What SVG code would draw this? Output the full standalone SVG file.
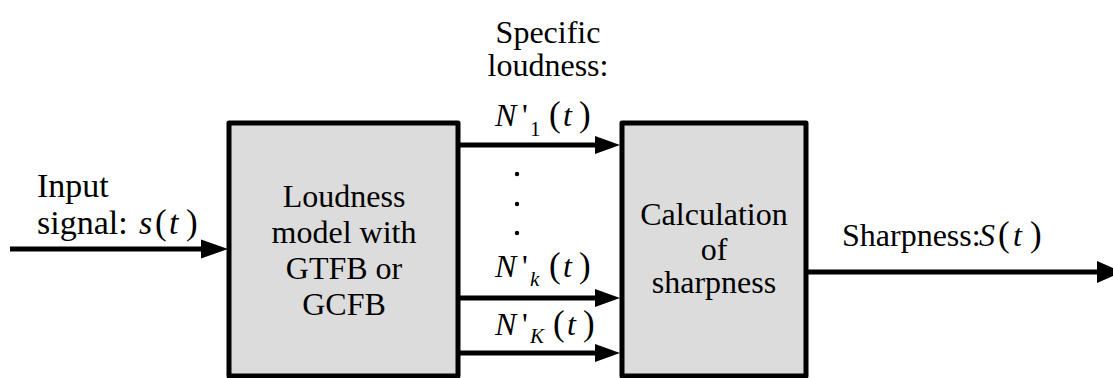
<svg xmlns="http://www.w3.org/2000/svg" width="1113" height="378" viewBox="0 0 1113 378">
<defs>
<style>
.box{fill:#dcdcdc;stroke:#000;stroke-width:5;stroke-linejoin:round}
.ln{stroke:#000;stroke-width:5;fill:none}
.ah{fill:#000}
.t{font-family:'Liberation Serif','Times New Roman',Times,'DejaVu Serif',serif;font-size:32px;fill:#000}
.big{font-size:34px}
.c{text-anchor:middle}
.i{font-style:italic}
.sub{font-size:21px;font-style:italic}
.subu{font-size:21px}
.p{font-size:35px}
</style>
</defs>
<rect width="1113" height="378" fill="#fff"/>
<g id="connectors">
<line class="ln" x1="10" y1="249" x2="205" y2="249"/>
<polygon class="ah" points="201,239.5 228,249 201,258.5"/>
<line class="ln" x1="459" y1="145" x2="598" y2="145"/>
<polygon class="ah" points="595,136 620,145 595,154"/>
<line class="ln" x1="459" y1="298" x2="598" y2="298"/>
<polygon class="ah" points="595,289 620,298 595,307"/>
<line class="ln" x1="459" y1="353" x2="598" y2="353"/>
<polygon class="ah" points="595,344 620,353 595,362"/>
<line class="ln" x1="806" y1="272" x2="1100" y2="272"/>
<polygon class="ah" points="1097,261 1122,272 1097,283"/>
<circle cx="517" cy="174" r="2.2"/>
<circle cx="517" cy="204" r="2.2"/>
<circle cx="517" cy="233" r="2.2"/>
</g>
<g id="input-label" class="t big" font-family="Liberation Serif, serif">
<text x="37" y="197">Input</text>
<text x="37" y="234">signal: <tspan class="i" x="139">s</tspan><tspan class="p" x="155">(</tspan><tspan class="i" x="169">t</tspan><tspan class="p" x="186">)</tspan></text>
</g>
<g id="loudness-model" class="t" font-family="Liberation Serif, serif">
<rect class="box" x="229" y="123" width="229" height="253"/>
<text class="c" x="344" y="207">Loudness</text>
<text class="c" x="344" y="243">model with</text>
<text class="c" x="344" y="279">GTFB or</text>
<text class="c" x="344" y="315">GCFB</text>
</g>
<g id="specific-loudness-label" class="t" font-family="Liberation Serif, serif">
<text class="c" x="548" y="43">Specific</text>
<text class="c" x="548" y="76">loudness:</text>
<text y="126"><tspan class="i" x="495">N</tspan><tspan x="522">'</tspan><tspan class="subu" x="530" y="136">1</tspan><tspan class="p" x="549" y="126">(</tspan><tspan class="i" x="563">t</tspan><tspan class="p" x="579">)</tspan></text>
<text y="277"><tspan class="i" x="495">N</tspan><tspan x="522">'</tspan><tspan class="sub" x="530" y="286">k</tspan><tspan class="p" x="549" y="277">(</tspan><tspan class="i" x="563">t</tspan><tspan class="p" x="579">)</tspan></text>
<text y="335"><tspan class="i" x="495">N</tspan><tspan x="522">'</tspan><tspan class="sub" x="530" y="343">K</tspan><tspan class="p" x="553" y="335">(</tspan><tspan class="i" x="567">t</tspan><tspan class="p" x="583">)</tspan></text>
</g>
<g id="sharpness-calc" class="t" font-family="Liberation Serif, serif">
<rect class="box" x="622" y="123" width="184" height="253"/>
<text class="c" x="714" y="225">Calculation</text>
<text class="c" x="714" y="260">of</text>
<text class="c" x="714" y="293">sharpness</text>
</g>
<g id="output-label" class="t" font-family="Liberation Serif, serif">
<text x="842" y="246">Sharpness:<tspan class="i" x="979">S</tspan><tspan class="p" x="998">(</tspan><tspan class="i" x="1013">t</tspan><tspan class="p" x="1030">)</tspan></text>
</g>
</svg>
